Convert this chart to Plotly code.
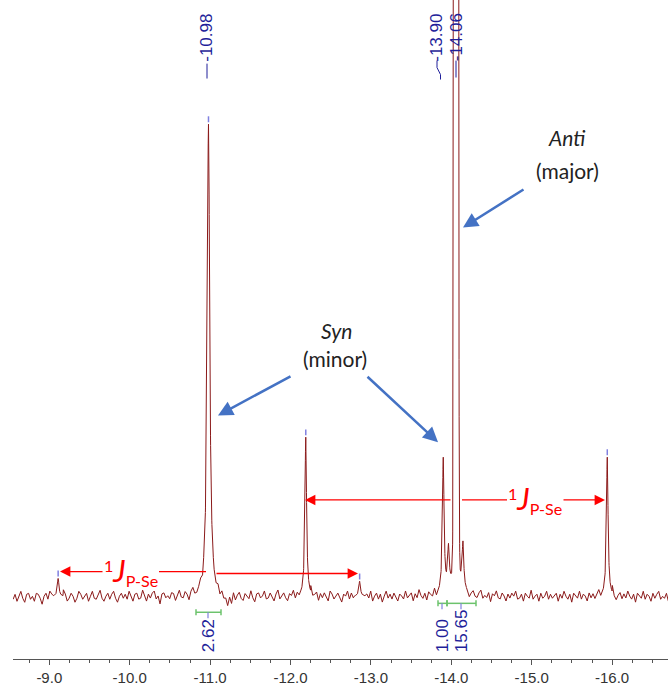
import numpy as np
import plotly.graph_objects as go

# ---------------- data ----------------
tick_values = [-9.0, -10.0, -11.0, -12.0, -13.0, -14.0, -15.0, -16.0]
tick_labels = ["-9.0", "-10.0", "-11.0", "-12.0", "-13.0", "-14.0", "-15.0", "-16.0"]

# Lorentzian lines: centre (ppm), height (intensity), half width (ppm)
lor_ppm = [-9.11, -10.98, -12.19, -12.86, -13.90, -13.965, -14.06, -14.145, -15.94]
lor_height = [18, 475, 160, 15, 135, 40, 40, 45, 140]
lor_hwhm = [0.012, 0.018, 0.012, 0.012, 0.012, 0.012, 0.05, 0.012, 0.012]

# very intense (off-scale) main line of the anti isomer
gauss_ppm = [-14.06]
gauss_height = [20000]
gauss_sigma = [0.012]

# baseline noise (intensity units), hand-estimated across the window
noise = [
    -3, 2, -5, 0, 5, -2, -6, 2, 3, -3, 0, -5, 3, 2, -2, -8, 0, 3, -3, 5,
    2, -2, -5, 3, 0, -3, 6, 2, -5, -2, 3, 0, -6, -2, 5, 2, -3, 0, 3, -5,
    0, 5, -2, -3, 2, 6, -2, -5, 0, 3, -3, 2, 5, -2, -6, 0, 3, -2, 2, -3,
    5, 0, -5, 2, 3, -3, -2, 6, 0, -5, 2, -2, 3, 5, -3, 0, -8, 2, 3, -2,
    0, -3, 3, 2, -5, 0, 5, -2, -3, 3, 0, -6, 2, 5, -2, -3, 0, 3, -5, 2,
    0, -3, 2, -5, -2, -3, 2, -5, 0, -6, -5, -12, -3, -9, 2, -5, 0, 3, -3, -5,
    2, 0, -3, 5, -2, -6, 2, 3, -2, 0, 5, -3, -2, 3, 0, -5, 2, 6, -3, 0,
    3, -2, -5, 2, 0, 5, -3, 2, -2, -6, 3, 0, 2, -3, 5, -2, 0, 3, -5, 2,
    -2, 3, 0, -5, 5, 2, -3, 0, 3, -2, -6, 2, 0, 5, -3, 3, -2, 0, -5, 2,
    3, -3, 0, 2, -2, 5, -5, 0, 3, -3, 2, -6, 0, 5, -2, 2, -3, 3, 0, -5,
    2, 0, -3, 5, -2, 0, 3, -5, 2, -2, 6, 0, -3, 2, -5, 3, 0, -2, 5, -3,
    0, -6, 2, 3, -3, 0, 5, -2, -5, 2, 3, -2, 0, -3, 5, 2, -5, 0, 3, -2,
    -3, 2, 5, -3, 0, -2, 3, -6, 2, 0, 5, -2, -3, 3, 0, -5, 2, -2, 3, 0,
    5, -3, -2, 2, -5, 3, 0, -2, 6, -3, 0, 2, -5, 3, -2, 0, 5, -3, 2, -2,
    0, 3, -5, 2, -2, 5, 0, -3, 2, -6, 3, 0, -2, 5, -3, 2, 0, -5, 3, -2,
    2, -3, 0, 5, -2, -5, 3, 0, -3, 2, 6, -2, -5, 0, 3, -3, 2, -2, 5, 0,
    -3, 2, -6, 3, 0, -2, 5, -3, 2, 0, -5, 3, -2, 2, 5, -3, 0, -2, 3, -5,
]

peak_labels = ["-10.98", "-13.90", "-14.06"]
integral_labels = ["2.62", "1.00", "15.65"]

# ---------------- spectrum ----------------
centres = np.array(lor_ppm + gauss_ppm)
x_noise = np.linspace(-8.55, -16.70, len(noise))
noise_arr = np.array(noise, dtype=float)
keep = np.min(np.abs(x_noise[:, None] - centres[None, :]), axis=1) > 0.06
dense = np.concatenate([np.linspace(c - 0.06, c + 0.06, 97) for c in centres])
x_all = np.concatenate([x_noise[keep], dense])
y_base = np.concatenate([noise_arr[keep], np.zeros(len(dense))])
order = np.argsort(x_all)
x_all = x_all[order]
y_all = y_base[order].copy()
for c, h, w in zip(lor_ppm, lor_height, lor_hwhm):
    y_all += h * w ** 2 / ((x_all - c) ** 2 + w ** 2)
for c, h, s in zip(gauss_ppm, gauss_height, gauss_sigma):
    y_all += h * np.exp(-0.5 * ((x_all - c) / s) ** 2)


# pixel -> data helpers for layout decorations
def X(px):
    return -9.0 - (px - 49.3) / 80.4


def Y(py):
    return 600.0 - py


fig = go.Figure()
fig.add_trace(go.Scatter(x=x_all, y=y_all, mode="lines",
                         line=dict(color="#8b1a1a", width=1),
                         hoverinfo="skip", showlegend=False))

shapes = []
BLUE_MARK = "#8080e0"
# peak-pick marks
for c, h in [(-9.11, 18), (-10.98, 475), (-12.19, 160), (-12.86, 15), (-15.94, 140)]:
    shapes.append(dict(type="line", xref="x", yref="y", x0=c, x1=c, y0=h + 2, y1=h + 8,
                       line=dict(color=BLUE_MARK, width=1.5)))
# label connectors
LBL = "#1f1f9a"
shapes.append(dict(type="line", xref="x", yref="y", x0=X(207), x1=X(207), y0=Y(64), y1=Y(79),
                   line=dict(color=LBL, width=1)))
shapes.append(dict(type="path", xref="x", yref="y",
                   path=f"M {X(437)} {Y(61)} L {X(437)} {Y(68)} L {X(440.5)} {Y(75)} L {X(440.5)} {Y(80)}",
                   line=dict(color=LBL, width=1)))
shapes.append(dict(type="line", xref="x", yref="y", x0=X(456), x1=X(456), y0=Y(61), y1=Y(78),
                   line=dict(color=LBL, width=1)))

# integral bars
GREEN = "#6cc36c"
for (a, b, yy, mid) in [(196, 221, 616, 208), (438, 447, 607, 442), (447, 476, 607, 461)]:
    shapes.append(dict(type="line", xref="x", yref="y", x0=X(a), x1=X(b), y0=Y(yy), y1=Y(yy),
                       line=dict(color=GREEN, width=1.5)))
    for e in (a, b):
        shapes.append(dict(type="line", xref="x", yref="y", x0=X(e), x1=X(e), y0=Y(yy - 3), y1=Y(yy + 3),
                           line=dict(color=GREEN, width=1.5)))
    shapes.append(dict(type="line", xref="x", yref="y", x0=X(mid), x1=X(mid), y0=Y(yy), y1=Y(yy + 6),
                       line=dict(color=BLUE_MARK, width=1.2)))

# J coupling connecting lines (red)
RED = "#ff0000"
shapes.append(dict(type="line", xref="x", yref="y", x0=X(159), x1=X(206), y0=Y(575), y1=Y(575),
                   line=dict(color=RED, width=1.3)))
shapes.append(dict(type="line", xref="x", yref="y", x0=X(462), x1=X(507), y0=Y(503), y1=Y(503),
                   line=dict(color=RED, width=1.3)))

annotations = []
# peak labels
for txt, px in zip(peak_labels, [207, 437, 456.5]):
    annotations.append(dict(x=X(px), y=Y(38), xref="x", yref="y", text=txt, textangle=-90,
                            showarrow=False, xanchor="center", yanchor="middle",
                            font=dict(family="Liberation Sans, Arial", size=17, color=LBL)))
# integral labels
for txt, px, py in zip(integral_labels, [208, 442, 461], [640, 640, 635]):
    annotations.append(dict(x=X(px), y=Y(py), xref="x", yref="y", text=txt, textangle=-90,
                            showarrow=False, xanchor="center", yanchor="middle",
                            font=dict(family="Liberation Sans, Arial", size=17, color=LBL)))

# isomer captions
CAP = dict(family="Lato, Open Sans, sans-serif", size=21, color="#222222")
annotations += [
    dict(x=X(336), y=Y(333), xref="x", yref="y", text="<i>Syn</i>", showarrow=False, font=CAP),
    dict(x=X(335), y=Y(361), xref="x", yref="y", text="(minor)", showarrow=False, font=CAP),
    dict(x=X(566), y=Y(138), xref="x", yref="y", text="<i>Anti</i>", showarrow=False, font=CAP),
    dict(x=X(567), y=Y(172), xref="x", yref="y", text="(major)", showarrow=False, font=CAP),
]
ARROW_BLUE = "#4472c4"
for (tx, ty, hx, hy) in [(292, 378, 218, 418), (366, 378, 438, 445), (525, 190, 463, 229)]:
    annotations.append(dict(x=X(hx), y=Y(hy), xref="x", yref="y", ax=tx - hx, ay=ty - hy,
                            axref="pixel", ayref="pixel", text="", showarrow=True,
                            arrowhead=2, arrowsize=1.2, arrowwidth=2.5, arrowcolor=ARROW_BLUE))
# J arrows
for (tx, ty, hx, hy) in [(104, 575, 60, 575), (215, 577, 358, 577), (452, 503, 305, 503), (562, 503, 605, 503)]:
    annotations.append(dict(x=X(hx), y=Y(hy), xref="x", yref="y", ax=tx - hx, ay=ty - hy,
                            axref="pixel", ayref="pixel", text="", showarrow=True,
                            arrowhead=2, arrowsize=1.6, arrowwidth=1.3, arrowcolor=RED))
JFONT = dict(family="Lato, Open Sans, sans-serif", size=23, color=RED)
JTXT = '<sup>1</sup><span style="font-size:31px"><i>J</i></span><sub>P-Se</sub>'
annotations.append(dict(x=X(131), y=Y(574), xref="x", yref="y", text=JTXT, showarrow=False, font=JFONT))
annotations.append(dict(x=X(535), y=Y(502), xref="x", yref="y", text=JTXT, showarrow=False, font=JFONT))

fig.update_layout(
    width=668, height=686,
    margin=dict(l=13, r=0, t=0, b=23),
    paper_bgcolor="white", plot_bgcolor="white",
    showlegend=False,
    shapes=shapes, annotations=annotations,
    xaxis=dict(range=[X(13), X(668)], tickvals=tick_values, ticktext=tick_labels,
               showline=True, linecolor="#555555", linewidth=1,
               ticks="outside", ticklen=5, tickcolor="#555555",
               minor=dict(dtick=0.25, tick0=-9.0, ticks="outside", ticklen=3, tickcolor="#555555"),
               showgrid=False, zeroline=False,
               tickfont=dict(family="Liberation Sans, Arial", size=15, color="#333333")),
    yaxis=dict(range=[Y(663), Y(0)], visible=False, showgrid=False, zeroline=False),
)

fig.write_html("out.html", include_plotlyjs=True, config={"displayModeBar": False},
               post_script="document.body.style.margin='0px';document.body.style.overflow='hidden';")
